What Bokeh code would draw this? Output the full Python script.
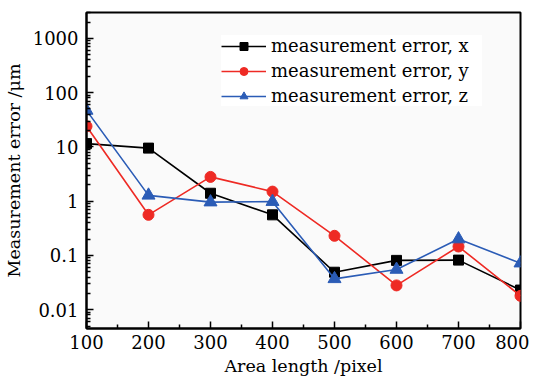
from bokeh.plotting import figure
from bokeh.models import FixedTicker, CustomJSTickFormatter, Legend, LegendItem
from bokeh.embed import file_html
from bokeh.resources import INLINE

area = [100, 200, 300, 400, 500, 600, 700, 800]
err_x = [11.5, 9.5, 1.4, 0.56, 0.049, 0.081, 0.082, 0.023]
err_y = [24, 0.56, 2.8, 1.5, 0.23, 0.028, 0.146, 0.018]
err_z = [47, 1.28, 0.96, 0.98, 0.037, 0.055, 0.2, 0.072]

x_ticks = [100, 200, 300, 400, 500, 600, 700, 800]
x_minor = [150, 250, 350, 450, 550, 650, 750]
y_ticks = [0.01, 0.1, 1, 10, 100, 1000]

FONT = "DejaVu Serif"

FRAME_H = 321
p = figure(width=529, height=378, y_axis_type="log",
           x_range=(100, 800), y_range=(0.0045, 3000),
           output_backend="svg", toolbar_location=None,
           min_border_left=82, min_border_right=9, min_border_top=12, min_border_bottom=45)

p.background_fill_color = "#fafafa"
p.border_fill_color = "white"
p.outline_line_color = "black"
p.outline_line_width = 2
p.xgrid.visible = False
p.ygrid.visible = False

minor_y = [m * 10.0 ** e for e in range(-3, 4) for m in range(2, 10)]
p.yaxis.ticker = FixedTicker(ticks=y_ticks, minor_ticks=minor_y)
p.yaxis.formatter = CustomJSTickFormatter(code="return String(tick);")
p.xaxis.ticker = FixedTicker(ticks=x_ticks, minor_ticks=x_minor)

for ax in (p.xaxis[0], p.yaxis[0]):
    ax.axis_line_width = 2
    ax.axis_line_color = "black"
    ax.major_tick_in = 7
    ax.major_tick_out = 0
    ax.minor_tick_in = 4
    ax.minor_tick_out = 0
    ax.major_tick_line_width = 1.5
    ax.minor_tick_line_width = 1.5
    ax.major_label_text_font = FONT
    ax.major_label_text_font_size = "18px"
    ax.major_label_text_color = "black"
    ax.axis_label_text_font = FONT
    ax.axis_label_text_font_size = "17.5px"
    ax.axis_label_text_font_style = "normal"
    ax.axis_label_text_color = "black"

p.xaxis.axis_label = "Area length /pixel"
p.yaxis.axis_label = "Measurement error /μm"
p.xaxis.major_label_standoff = 6
p.yaxis.major_label_standoff = 8
p.xaxis.axis_label_standoff = 4
p.yaxis.axis_label_standoff = 6

series = [
    (err_x, "black", "square", 10, "measurement error, x"),
    (err_y, "#ee2a24", "circle", 11, "measurement error, y"),
    (err_z, "#2b5cb6", "triangle", 13, "measurement error, z"),
]
items = []
for vals, col, mk, sz, lab in series:
    l = p.line(area, vals, line_color=col, line_width=1.6)
    s = p.scatter(area, vals, marker=mk, size=sz, fill_color=col, line_color=col)
    items.append(LegendItem(label=lab, renderers=[l, s]))

LEG_H = 3 * 20 + 2 * 4 + 2 * 12
legend = Legend(items=items, location=(135, FRAME_H - 7 - LEG_H))
legend.background_fill_color = "white"
legend.background_fill_alpha = 1.0
legend.border_line_color = None
legend.label_text_font = FONT
legend.label_text_font_size = "18px"
legend.label_text_color = "black"
legend.glyph_width = 45
legend.glyph_height = 20
legend.label_height = 20
legend.spacing = 4
legend.padding = 12
legend.margin = 0
legend.label_standoff = 5
legend.label_width = 211
p.add_layout(legend, "center")

open("out.html", "w").write(file_html(p, INLINE))
